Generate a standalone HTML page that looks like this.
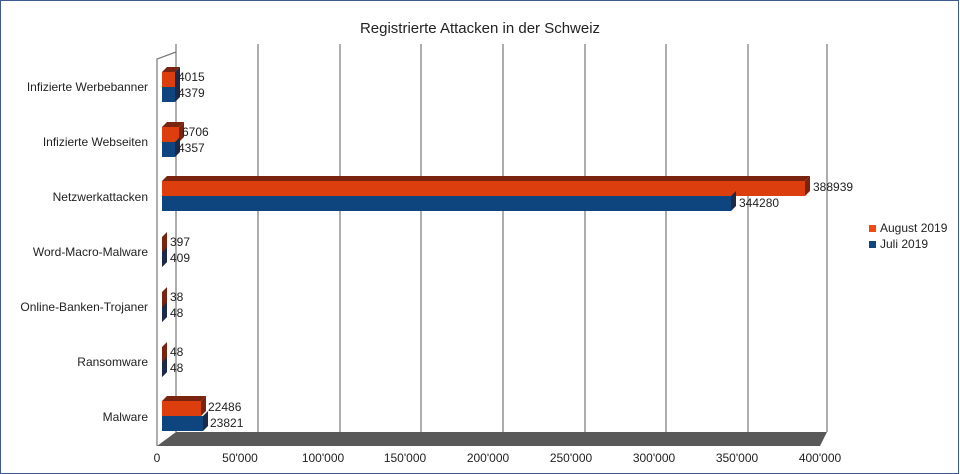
<!DOCTYPE html>
<html><head><meta charset="utf-8"><style>
body{margin:0;background:#fff}
svg{display:block}
text{font-family:"Liberation Sans",sans-serif;font-size:12px;fill:#222}
</style></head><body>
<svg width="960" height="474" viewBox="0 0 960 474">
<rect x="0.5" y="0.5" width="958" height="473" fill="#fff" stroke="#3d5b8c" stroke-width="1"/>
<text x="480" y="33" text-anchor="middle" style="font-size:15px">Registrierte Attacken in der Schweiz</text>
<g stroke="#777" stroke-width="1.2">
<line x1="176" y1="44" x2="176" y2="432"/>
<line x1="258" y1="44" x2="258" y2="432"/>
<line x1="340" y1="44" x2="340" y2="432"/>
<line x1="421" y1="44" x2="421" y2="432"/>
<line x1="503" y1="44" x2="503" y2="432"/>
<line x1="585" y1="44" x2="585" y2="432"/>
<line x1="666" y1="44" x2="666" y2="432"/>
<line x1="748" y1="44" x2="748" y2="432"/>
<line x1="827" y1="44" x2="827" y2="432"/>
</g>
<polyline points="157,446 157,59 176,52" fill="none" stroke="#777" stroke-width="1.2"/>
<polygon points="176,432 827,432 820,446 157,446" fill="#595959"/>
<g>
<polygon points="162,72 167,67 180,67 175,72" fill="#7a2410"/>
<rect x="162" y="72" width="13" height="15" fill="#dd3e0e"/>
<polygon points="175,72 180,67 180,97 175,102" fill="#1b2a48"/>
<rect x="162" y="87" width="13" height="15" fill="#0f457f"/>
<polygon points="162,127 167,122 184,122 179,127" fill="#7a2410"/>
<rect x="162" y="127" width="17" height="15" fill="#dd3e0e"/>
<polygon points="179,127 184,122 184,137 179,142" fill="#7a2410"/>
<rect x="162" y="142" width="13" height="15" fill="#0f457f"/>
<polygon points="175,142 180,137 180,152 175,157" fill="#1b2a48"/>
<polygon points="162,181 167,176 810,176 805,181" fill="#7a2410"/>
<rect x="162" y="181" width="643" height="15" fill="#dd3e0e"/>
<polygon points="805,181 810,176 810,191 805,196" fill="#7a2410"/>
<rect x="162" y="196" width="569" height="15" fill="#0f457f"/>
<polygon points="731,196 736,191 736,206 731,211" fill="#1b2a48"/>
<polygon points="162,237 167,232 167,262 162,267" fill="#7a2410"/>
<polygon points="162,252 167,247 167,262 162,267" fill="#1b2a48"/>
<polygon points="162,292 167,287 167,317 162,322" fill="#7a2410"/>
<polygon points="162,307 167,302 167,317 162,322" fill="#1b2a48"/>
<polygon points="162,347 167,342 167,372 162,377" fill="#7a2410"/>
<polygon points="162,362 167,357 167,372 162,377" fill="#1b2a48"/>
<polygon points="162,401 167,396 206,396 201,401" fill="#7a2410"/>
<rect x="162" y="401" width="39" height="15" fill="#dd3e0e"/>
<polygon points="201,401 206,396 206,411 201,416" fill="#7a2410"/>
<rect x="162" y="416" width="41" height="15" fill="#0f457f"/>
<polygon points="203,416 208,411 208,426 203,431" fill="#1b2a48"/>
</g>
<text x="178" y="81">4015</text><text x="178" y="97">4379</text>
<text x="182" y="136">6706</text><text x="178" y="152">4357</text>
<text x="813" y="191">388939</text><text x="739" y="207">344280</text>
<text x="170" y="246">397</text><text x="170" y="262">409</text>
<text x="170" y="301">38</text><text x="170" y="317">48</text>
<text x="170" y="356">48</text><text x="170" y="372">48</text>
<text x="208" y="411">22486</text><text x="210" y="427">23821</text>
<g text-anchor="end">
<text x="148" y="91">Infizierte Werbebanner</text>
<text x="148" y="146">Infizierte Webseiten</text>
<text x="148" y="201">Netzwerkattacken</text>
<text x="148" y="256">Word-Macro-Malware</text>
<text x="148" y="311">Online-Banken-Trojaner</text>
<text x="148" y="366">Ransomware</text>
<text x="148" y="421">Malware</text>
</g>
<g text-anchor="middle">
<text x="157" y="462">0</text>
<text x="240" y="462">50'000</text>
<text x="323" y="462">100'000</text>
<text x="405" y="462">150'000</text>
<text x="488" y="462">200'000</text>
<text x="571" y="462">250'000</text>
<text x="654" y="462">300'000</text>
<text x="737" y="462">350'000</text>
<text x="820" y="462">400'000</text>
</g>
<rect x="869" y="225" width="7" height="7" fill="#f04a10"/>
<text x="880" y="232">August 2019</text>
<rect x="869" y="241" width="7" height="7" fill="#0f457f"/>
<text x="880" y="248">Juli 2019</text>
</svg>
</body></html>
